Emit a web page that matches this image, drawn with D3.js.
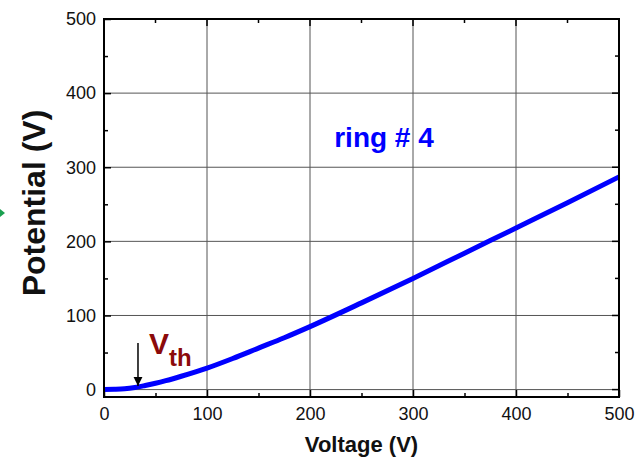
<!DOCTYPE html>
<html>
<head>
	<meta charset="utf-8">
	<script src="https://cdn.jsdelivr.net/npm/d3@7"></script>
	<style type="text/css">
		body { margin: 0; padding: 0; background: white; }
		svg text { font-family: "Liberation Sans", Arial, sans-serif; }
	</style>
</head>
<body>
	<script type="text/javascript">

		// curve data: applied voltage vs potential on ring #4
		var voltage = [0, 10, 20, 30, 40, 50, 60, 75, 100, 125, 150, 175, 200, 250, 300, 350, 400, 450, 500];
		var potential = [0, 0.3, 1, 2.8, 5.5, 8.5, 12, 18, 29, 42, 56, 70, 85, 117, 150, 184, 218, 252, 287];
		var xTicks = [0, 100, 200, 300, 400, 500];
		var yTicks = [0, 100, 200, 300, 400, 500];
		var vthAt = 33;

		var W = 644, H = 461;
		var pLeft = 104, pRight = 619, pTop = 19, pBottom = 397;

		var svg = d3.select("body").append("svg")
			.attr("width", W).attr("height", H);

		var x = d3.scaleLinear().domain([0, 500]).range([pLeft, pRight]);
		var y = d3.scaleLinear().domain([-10, 500]).range([pBottom, pTop]);

		// grid
		svg.append("g").selectAll("line").data(xTicks.slice(1, -1)).enter().append("line")
			.attr("x1", function(d){ return x(d); }).attr("x2", function(d){ return x(d); })
			.attr("y1", pTop).attr("y2", pBottom)
			.style("stroke", "#555").style("stroke-width", 1);
		svg.append("g").selectAll("line").data(yTicks.slice(0, -1)).enter().append("line")
			.attr("x1", pLeft).attr("x2", pRight)
			.attr("y1", function(d){ return y(d); }).attr("y2", function(d){ return y(d); })
			.style("stroke", "#555").style("stroke-width", 1);

		// axes (ticks pointing inward)
		var minorX = d3.range(0, 501, 50);
		var minorY = d3.range(0, 501, 50);
		function tickSize(d){ return d % 100 === 0 ? 7 : 4; }

		svg.append("g").attr("transform", "translate(0," + pBottom + ")")
			.call(d3.axisBottom(x).tickValues(minorX).tickSizeInner(0).tickSizeOuter(0)
				.tickFormat(function(d){ return d % 100 === 0 ? d : ""; }).tickPadding(10))
			.call(function(g){
				g.select(".domain").remove();
				g.selectAll(".tick line").attr("y2", function(d){ return -tickSize(d); }).style("stroke", "#000").style("stroke-width", 1.5);
				g.selectAll("text").style("font-size", "18px").style("fill", "#111");
			});
		svg.append("g").attr("transform", "translate(" + pLeft + ",0)")
			.call(d3.axisLeft(y).tickValues(minorY).tickSizeInner(0).tickSizeOuter(0)
				.tickFormat(function(d){ return d % 100 === 0 ? d : ""; }).tickPadding(8))
			.call(function(g){
				g.select(".domain").remove();
				g.selectAll(".tick line").attr("x2", function(d){ return tickSize(d); }).style("stroke", "#000").style("stroke-width", 1.5);
				g.selectAll("text").style("font-size", "18px").style("fill", "#111");
			});
		// right and top ticks
		svg.append("g").selectAll("line").data(minorY).enter().append("line")
			.attr("x1", pRight).attr("x2", function(d){ return pRight - tickSize(d); })
			.attr("y1", function(d){ return y(d); }).attr("y2", function(d){ return y(d); })
			.style("stroke", "#000").style("stroke-width", 1.5);
		svg.append("g").selectAll("line").data(minorX).enter().append("line")
			.attr("x1", function(d){ return x(d); }).attr("x2", function(d){ return x(d); })
			.attr("y1", pTop).attr("y2", function(d){ return pTop + tickSize(d); })
			.style("stroke", "#000").style("stroke-width", 1.5);

		// curve
		var pts = voltage.map(function(v, i){ return [v, potential[i]]; });
		svg.append("path").datum(pts)
			.attr("d", d3.line().x(function(d){ return x(d[0]); }).y(function(d){ return y(d[1]); }).curve(d3.curveMonotoneX))
			.style("fill", "none").style("stroke", "#0000ff").style("stroke-width", 5);

		// frame
		svg.append("rect").attr("x", pLeft).attr("y", pTop)
			.attr("width", pRight - pLeft).attr("height", pBottom - pTop)
			.style("fill", "none").style("stroke", "#000").style("stroke-width", 2);

		// Vth arrow
		svg.append("defs").append("marker").attr("id", "ah")
			.attr("viewBox", "0 0 10 10").attr("refX", 10).attr("refY", 5)
			.attr("markerWidth", 6).attr("markerHeight", 8).attr("orient", "auto")
			.append("path").attr("d", "M0,0 L10,5 L0,10 Z").style("fill", "#000");
		svg.append("line")
			.attr("x1", x(vthAt)).attr("x2", x(vthAt))
			.attr("y1", y(63)).attr("y2", y(5))
			.style("stroke", "#000").style("stroke-width", 1.5)
			.attr("marker-end", "url(#ah)");

		var vth = svg.append("text").attr("x", 149).attr("y", 354)
			.style("fill", "#8b0a0a").style("font-weight", "bold").style("font-size", "30px");
		vth.append("tspan").text("V");
		vth.append("tspan").attr("dy", 12).style("font-size", "24px").text("th");

		// label
		svg.append("text").attr("x", 384).attr("y", 147).attr("text-anchor", "middle")
			.style("fill", "#0000ff").style("font-weight", "bold").style("font-size", "28px")
			.text("ring # 4");

		// axis titles
		svg.append("text").attr("x", x(250)).attr("y", 452).attr("text-anchor", "middle")
			.style("font-weight", "bold").style("font-size", "22px").style("fill", "#111")
			.text("Voltage (V)");
		svg.append("text").attr("transform", "translate(45,203) rotate(-90)")
			.attr("text-anchor", "middle")
			.style("font-weight", "bold").style("font-size", "32px").style("fill", "#111")
			.text("Potential (V)");

		// cut-off green arrowhead at the left edge
		svg.append("path").attr("d", "M-4,206 L5,213 L-4,220 Z").style("fill", "#1aa050");

	</script>
</body>
</html>
